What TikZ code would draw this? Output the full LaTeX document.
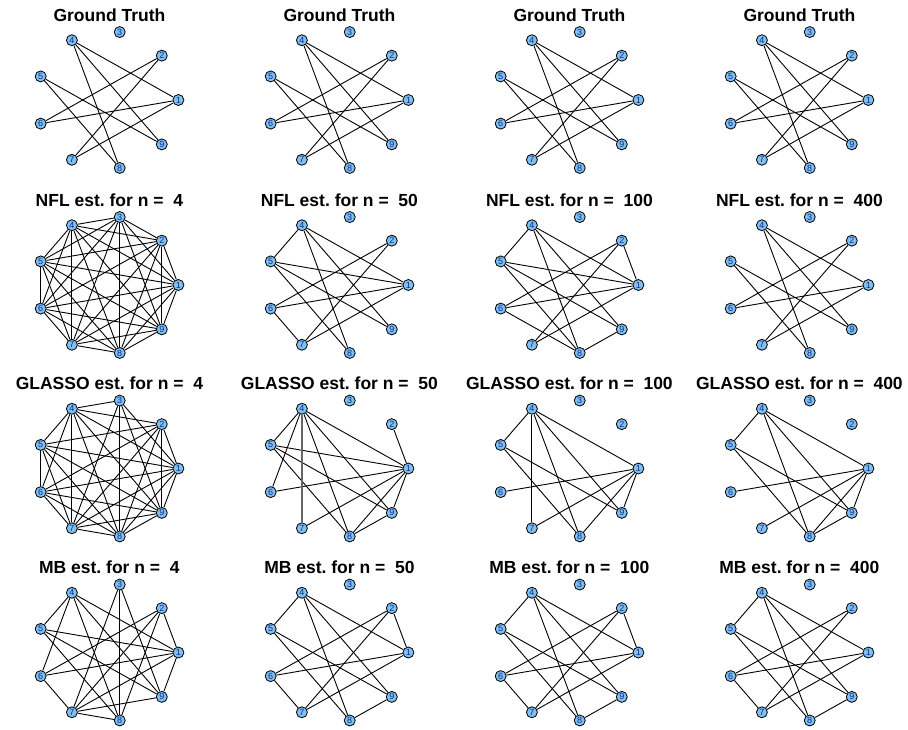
\documentclass[tikz,border=0pt]{standalone}
\usepackage{fontspec}
\setmainfont{Liberation Sans}
\frenchspacing
\usetikzlibrary{backgrounds}
\definecolor{nodefill}{RGB}{126,192,238}
\definecolor{labelblue}{RGB}{20,40,150}
\tikzset{
  vert/.style={circle, draw=black, line width=0.8pt, fill=nodefill, minimum size=11pt,
    inner sep=0pt, font=\fontsize{9}{9}\selectfont, text=labelblue},
  edge/.style={draw=black, line width=0.9pt},
  grayedge/.style={draw=black!60, line width=1.6pt},
  paneltitle/.style={font=\bfseries\fontsize{17.5}{17.5}\selectfont, anchor=base}
}
\newcommand\drawpanel[5]{%
  \node[paneltitle] (#1-t) at (#2+2,#3-79) {#4};
  \foreach \k in {1,...,9}{
    \node[vert] (#1-\k) at ({#2+71*cos((\k-1)*40)},{#3-69*sin((\k-1)*40)}) {\k};
  }
  \begin{pgfonlayer}{background}
    \foreach \a/\b in {#5}{ \draw[edge] (#1-\a) -- (#1-\b); }
  \end{pgfonlayer}
}
\begin{document}
\begin{tikzpicture}[x=1pt,y=-1pt]
\useasboundingbox (0,0) rectangle (908,729);
% Row 1: ground truth
\drawpanel{a1}{107.4}{100}{Ground Truth}{1/4,4/8,4/9,2/6,2/7,5/9,5/8,1/6,1/7}
\drawpanel{a2}{337.4}{100}{Ground Truth}{1/4,4/8,4/9,2/6,2/7,5/9,5/8,1/6,1/7}
\drawpanel{a3}{567.4}{100}{Ground Truth}{1/4,4/8,4/9,2/6,2/7,5/9,5/8,1/6,1/7}
\drawpanel{a4}{797.4}{100}{Ground Truth}{1/4,4/8,4/9,2/6,2/7,5/9,5/8,1/6,1/7}
% Row 2: NFL
\drawpanel{b1}{107.4}{285}{NFL est. for n =\ \ 4}{1/2,1/3,1/4,1/5,1/6,1/7,1/8,1/9,2/3,2/4,2/5,2/6,2/7,2/8,2/9,3/4,3/5,3/6,3/7,3/8,3/9,4/5,4/6,4/7,4/8,4/9,5/6,5/7,5/8,5/9,6/7,6/8,6/9,7/8,7/9,8/9}
\drawpanel{b2}{337.4}{285}{NFL est. for n =\ \ 50}{4/5,1/4,4/8,4/9,1/5,5/8,5/9,2/6,2/7,1/6,6/7,1/7}
\drawpanel{b3}{567.4}{285}{NFL est. for n =\ \ 100}{4/5,1/4,4/8,4/9,1/5,5/9,5/8,2/6,2/7,1/2,1/6,6/8,1/7,8/9}
\drawpanel{b4}{797.4}{285}{NFL est. for n =\ \ 400}{1/4,4/8,4/9,2/6,2/7,5/9,5/8,1/6,1/7}
% Row 3: GLASSO
\drawpanel{c1}{107.4}{468.5}{GLASSO est. for n =\ \ 4}{1/2,1/3,1/4,1/5,1/6,1/7,1/8,1/9,2/4,2/5,2/6,2/7,2/8,2/9,3/4,3/7,3/8,3/9,4/5,4/6,4/7,4/8,4/9,5/6,5/7,5/8,5/9,6/7,6/8,6/9,7/8,7/9,8/9}
\drawpanel{c2}{337.4}{468.5}{GLASSO est. for n =\ \ 50}{4/5,4/6,4/8,4/9,1/4,1/5,5/9,5/8,1/2,1/6,1/7,1/8,1/9,8/9}
\begin{pgfonlayer}{background}
  \draw[grayedge] (c2-4) -- (c2-7);
\end{pgfonlayer}
\drawpanel{c3}{567.4}{468.5}{GLASSO est. for n =\ \ 100}{4/5,4/7,4/8,4/9,1/4,5/9,5/8,1/6,1/7,1/8,1/9}
\drawpanel{c4}{797.4}{468.5}{GLASSO est. for n =\ \ 400}{4/5,4/8,4/9,1/4,5/9,5/8,1/6,1/7,1/8,1/9,8/9}
% Row 4: MB
\drawpanel{d1}{107.4}{652.5}{MB est. for n =\ \ 4}{3/7,3/8,3/9,4/5,4/6,4/8,4/9,1/4,1/5,5/9,5/8,2/6,2/7,2/8,1/2,1/6,6/7,1/7,7/9,7/8,1/9}
\drawpanel{d2}{337.4}{652.5}{MB est. for n =\ \ 50}{4/5,1/4,4/8,4/9,5/9,5/8,2/6,2/7,1/2,1/6,6/7,1/7,8/9}
\drawpanel{d3}{567.4}{652.5}{MB est. for n =\ \ 100}{4/5,1/4,4/8,4/9,5/9,5/8,2/6,2/7,1/2,1/6,6/7,1/7,8/9}
\drawpanel{d4}{797.4}{652.5}{MB est. for n =\ \ 400}{4/5,1/4,4/8,4/9,5/9,5/8,2/6,2/7,1/6,6/7,1/7,8/9}
\end{tikzpicture}
\end{document}
